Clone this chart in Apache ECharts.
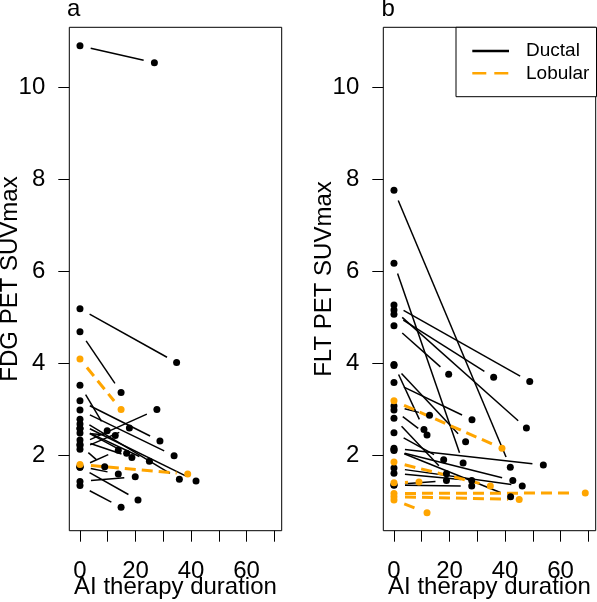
<!DOCTYPE html>
<html><head><meta charset="utf-8">
<script src="https://cdn.jsdelivr.net/npm/echarts@6/dist/echarts.min.js"></script>
<style>html,body{margin:0;padding:0;background:#fff}#c{width:597px;height:602px}</style>
</head><body><div id="c"></div>
<script>
// ---- tick values ----
const xTicks = [0, 10, 20, 30, 40, 50, 60, 70];
const xLabels = [0, 20, 40, 60];
const yTicks = [2, 4, 6, 8, 10];

// ---- panel a: FDG PET SUVmax ----
const fdgBase = [10.90, 5.19, 4.69, 4.10, 1.81, 3.53, 3.19, 2.99, 2.79, 2.69, 2.59, 2.49, 2.34, 2.25, 2.14, 2.22, 2.59, 1.75, 1.44, 1.75, 1.35, 1.77];
const fdgDur  = [26.8, 34.8, 14.8, 14.8, 38.8, 9.8, 28.8, 33.9, 35.8, 41.8, 25.0, 12.7, 18.7, 27.7, 17.8, 8.9, 16.8, 13.8, 19.9, 20.9, 14.8, 13.8];
const fdgPost = [10.53, 4.02, 3.37, 3.00, 1.60, 2.54, 2.32, 2.00, 1.49, 1.45, 1.88, 2.44, 1.96, 3.00, 2.60, 1.76, 2.05, 2.12, 1.54, 1.04, 0.88, 1.60];
const fdgType = ['D','D','D','L','L','D','D','D','D','D','D','D','D','D','D','D','D','D','D','D','D','D'];

// ---- panel b: FLT PET SUVmax ----
const fltBase = [7.76, 6.18, 5.27, 5.16, 5.07, 4.82, 3.98, 3.96, 3.59, 3.08, 2.99, 2.81, 2.50, 2.16, 2.11, 2.13, 1.73, 1.62, 1.36, 1.37, 3.19, 1.86, 1.41, 1.18, 1.11, 1.04];
const fltDur  = [41.9, 24.9, 48.9, 47.7, 35.9, 19.7, 10.8, 25.8, 28.1, 12.8, 11.9, 18.9, 17.9, 53.8, 42.8, 42.0, 46.2, 28.0, 28.0, 18.9, 38.9, 34.7, 9.0, 68.9, 45.1, 11.9];
const fltPost = [1.75, 1.84, 3.61, 2.60, 3.70, 3.77, 2.57, 2.30, 2.78, 2.88, 2.45, 1.61, 1.91, 1.80, 1.46, 1.11, 1.34, 1.46, 1.34, 1.46, 2.16, 1.34, 1.43, 1.19, 1.05, 0.76];
const fltType = ['D','D','D','D','D','D','D','D','D','D','D','D','D','D','D','D','D','D','D','D','L','L','L','L','L','L'];

const legendNames = ['Ductal', 'Lobular'];

const FONT = '"Liberation Sans", Arial, Helvetica, sans-serif';
const ORANGE = '#FFA500';
const X_MIN = -3.85, X_MAX = 72.66, Y_MIN = 0.371, Y_MAX = 11.30;
const GAP = 11;
const GRID_W = 212.4, GRID_H = 503.4, GRID_TOP = 27.3;
const LEFTS = [69.3, 383.3];

function segData(base, dur, post, type, kind) {
  const out = [];
  for (let i = 0; i < base.length; i++) if (type[i] === kind) out.push([0, base[i], dur[i], post[i]]);
  return out;
}
function ptData(base, dur, post, type, kind) {
  const out = [];
  for (let i = 0; i < base.length; i++) if (type[i] === kind) { out.push([0, base[i]]); out.push([dur[i], post[i]]); }
  return out;
}
function segRender(color, width, dash) {
  return function (params, api) {
    const p0 = api.coord([api.value(0), api.value(1)]);
    const p1 = api.coord([api.value(2), api.value(3)]);
    const dx = p1[0] - p0[0], dy = p1[1] - p0[1];
    const d = Math.hypot(dx, dy);
    if (d <= 2 * GAP) return null;
    const ux = dx / d, uy = dy / d;
    return {
      type: 'line',
      shape: { x1: p0[0] + ux * GAP, y1: p0[1] + uy * GAP, x2: p1[0] - ux * GAP, y2: p1[1] - uy * GAP },
      style: { stroke: color, lineWidth: width, lineDash: dash, fill: null }
    };
  };
}

const panels = [
  { base: fdgBase, dur: fdgDur, post: fdgPost, type: fdgType },
  { base: fltBase, dur: fltDur, post: fltPost, type: fltType }
];

const grid = [], xAxis = [], yAxis = [], series = [];
panels.forEach((p, i) => {
  grid.push({ left: LEFTS[i], top: GRID_TOP, width: GRID_W, height: GRID_H, show: true,
    borderColor: '#000', borderWidth: 1, backgroundColor: '#fff' });
  xAxis.push({ gridIndex: i, type: 'value', min: X_MIN, max: X_MAX,
    axisLine: { show: false, onZero: false }, splitLine: { show: false },
    axisTick: { show: true, customValues: xTicks, length: 11, lineStyle: { color: '#000', width: 1 } },
    axisLabel: { customValues: xLabels, margin: 29, fontSize: 24, color: '#000', fontFamily: FONT } });
  yAxis.push({ gridIndex: i, type: 'value', min: Y_MIN, max: Y_MAX,
    axisLine: { show: false, onZero: false }, splitLine: { show: false },
    axisTick: { show: true, customValues: yTicks, length: 11, lineStyle: { color: '#000', width: 1 } },
    axisLabel: { customValues: yTicks, margin: 24, fontSize: 24, color: '#000', fontFamily: FONT } });
  series.push({ type: 'custom', xAxisIndex: i, yAxisIndex: i, silent: true,
    dimensions: ['x0', 'y0', 'x1', 'y1'], encode: { x: [0, 2], y: [1, 3] },
    renderItem: segRender('#000', 1.5, null), data: segData(p.base, p.dur, p.post, p.type, 'D'), z: 2 });
  series.push({ type: 'custom', xAxisIndex: i, yAxisIndex: i, silent: true,
    dimensions: ['x0', 'y0', 'x1', 'y1'], encode: { x: [0, 2], y: [1, 3] },
    renderItem: segRender(ORANGE, 3, [11, 6]), data: segData(p.base, p.dur, p.post, p.type, 'L'), z: 2 });
  series.push({ type: 'scatter', xAxisIndex: i, yAxisIndex: i, symbol: 'circle', symbolSize: 7,
    itemStyle: { color: '#000', opacity: 1 }, data: ptData(p.base, p.dur, p.post, p.type, 'D'), z: 3, silent: true });
  series.push({ type: 'scatter', xAxisIndex: i, yAxisIndex: i, symbol: 'circle', symbolSize: 7,
    itemStyle: { color: ORANGE, opacity: 1 }, data: ptData(p.base, p.dur, p.post, p.type, 'L'), z: 4, silent: true });
});

const txt = (x, y, text, size, extra) => Object.assign({ type: 'text', x: x, y: y, silent: true,
  style: { text: text, fontSize: size, fontFamily: FONT, fill: '#000', align: 'center', verticalAlign: 'middle' } }, extra || {});

const graphic = [
  txt(67, 9.5, 'a', 24, { style: { text: 'a', fontSize: 24, fontFamily: FONT, fill: '#000', align: 'left', verticalAlign: 'middle' } }),
  txt(381.5, 9.5, 'b', 24, { style: { text: 'b', fontSize: 24, fontFamily: FONT, fill: '#000', align: 'left', verticalAlign: 'middle' } }),
  txt(LEFTS[0] + GRID_W / 2, 587.5, 'AI therapy duration', 24),
  txt(LEFTS[1] + GRID_W / 2, 587.5, 'AI therapy duration', 24),
  txt(10, GRID_TOP + GRID_H / 2, 'FDG PET SUVmax', 24, { rotation: Math.PI / 2 }),
  txt(324, GRID_TOP + GRID_H / 2, 'FLT PET SUVmax', 24, { rotation: Math.PI / 2 }),
  { type: 'rect', silent: true, z: 10, shape: { x: 456, y: GRID_TOP, width: 140.5, height: 69.4 },
    style: { fill: '#fff', stroke: '#000', lineWidth: 1 } },
  { type: 'line', silent: true, z: 11, shape: { x1: 472.3, y1: 51, x2: 509, y2: 51 },
    style: { stroke: '#000', lineWidth: 2.5 } },
  { type: 'line', silent: true, z: 11, shape: { x1: 472.3, y1: 73.3, x2: 509, y2: 73.3 },
    style: { stroke: ORANGE, lineWidth: 2.5, lineDash: [14, 8] } },
  { type: 'text', silent: true, z: 11, x: 526, y: 51,
    style: { text: legendNames[0], fontSize: 19, fontFamily: FONT, fill: '#000', align: 'left', verticalAlign: 'middle' } },
  { type: 'text', silent: true, z: 11, x: 526, y: 73.3,
    style: { text: legendNames[1], fontSize: 19, fontFamily: FONT, fill: '#000', align: 'left', verticalAlign: 'middle' } }
];

const chart = echarts.init(document.getElementById('c'), null, { renderer: 'canvas' });
chart.setOption({ animation: false, backgroundColor: '#fff', grid, xAxis, yAxis, series, graphic });
</script>
</body></html>
